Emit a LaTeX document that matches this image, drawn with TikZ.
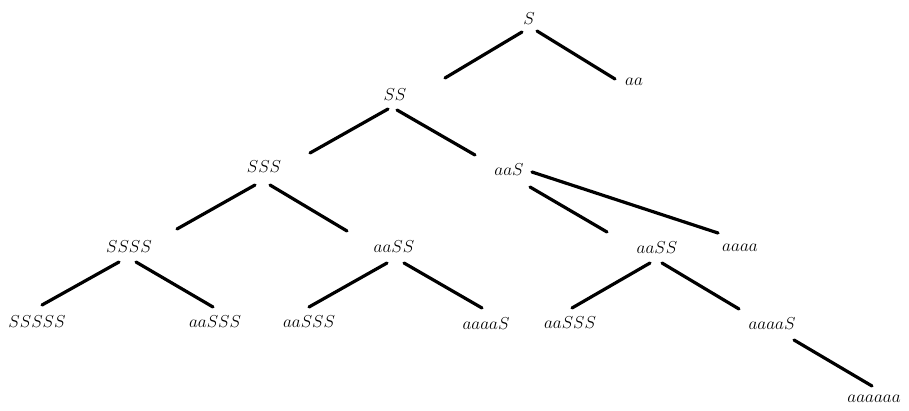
\documentclass[tikz,border=0pt]{standalone}
\usetikzlibrary{calc}
\begin{document}
\begin{tikzpicture}[x=1pt,y=-1pt,
  lbl/.style={inner sep=0pt,outer sep=0pt,font=\fontsize{19}{23}\selectfont},
  edge/.style={line width=3.2pt,line cap=round}]
\useasboundingbox (0,0) rectangle (909,410);
\node[lbl] (S) at (529,19) {$S$};
\node[lbl] (aa) at (634,82) {$aa$};
\node[lbl] (SS) at (395,95) {$SS$};
\node[lbl] (SSS) at (264,167) {$SSS$};
\node[lbl] (aaS) at (509,170) {$aaS$};
\node[lbl] (SSSS) at (129,247) {$SSSS$};
\node[lbl] (aaSSm) at (394,247) {$aaSS$};
\node[lbl] (aaSSr) at (657,248) {$aaSS$};
\node[lbl] (aaaa) at (740,248) {$aaaa$};
\node[lbl] (SSSSS) at (37,322) {$SSSSS$};
\node[lbl] (aaSSSa) at (215,322) {$aaSSS$};
\node[lbl] (aaSSSb) at (309,322) {$aaSSS$};
\node[lbl] (aaaaSa) at (486,324) {$aaaaS$};
\node[lbl] (aaSSSc) at (570,323) {$aaSSS$};
\node[lbl] (aaaaSb) at (772,324) {$aaaaS$};
\node[lbl] (aaaaaa) at (874,399) {$aaaaaa$};
\draw[edge] ($(S)+(-7,13)$) -- ($(SS)+(50,-17)$);
\draw[edge] ($(S)+(8,12)$) -- ($(aa)+(-19,-3)$);
\draw[edge] ($(SS)+(-7,14)$) -- ($(SSS)+(46,-14)$);
\draw[edge] ($(SS)+(2,15)$) -- ($(aaS)+(-34,-15)$);
\draw[edge] ($(SSS)+(-9,18)$) -- ($(SSSS)+(48,-18)$);
\draw[edge] ($(SSS)+(6,18)$) -- ($(aaSSm)+(-47,-16)$);
\draw[edge] ($(aaS)+(21,17)$) -- ($(aaSSr)+(-50,-16)$);
\draw[edge] ($(aaS)+(23,2)$) -- ($(aaaa)+(-22,-15)$);
\draw[edge] ($(SSSS)+(-10,15)$) -- ($(SSSSS)+(5,-17)$);
\draw[edge] ($(SSSS)+(7,15)$) -- ($(aaSSSa)+(-2,-15)$);
\draw[edge] ($(aaSSm)+(-7,16)$) -- ($(aaSSSb)+(0,-15)$);
\draw[edge] ($(aaSSm)+(10,16)$) -- ($(aaaaSa)+(-4,-16)$);
\draw[edge] ($(aaSSr)+(-7,15)$) -- ($(aaSSSc)+(2,-15)$);
\draw[edge] ($(aaSSr)+(5,15)$) -- ($(aaaaSb)+(-33,-15)$);
\draw[edge] ($(aaaaSb)+(22,16)$) -- ($(aaaaaa)+(-2,-13)$);
\end{tikzpicture}
\end{document}
